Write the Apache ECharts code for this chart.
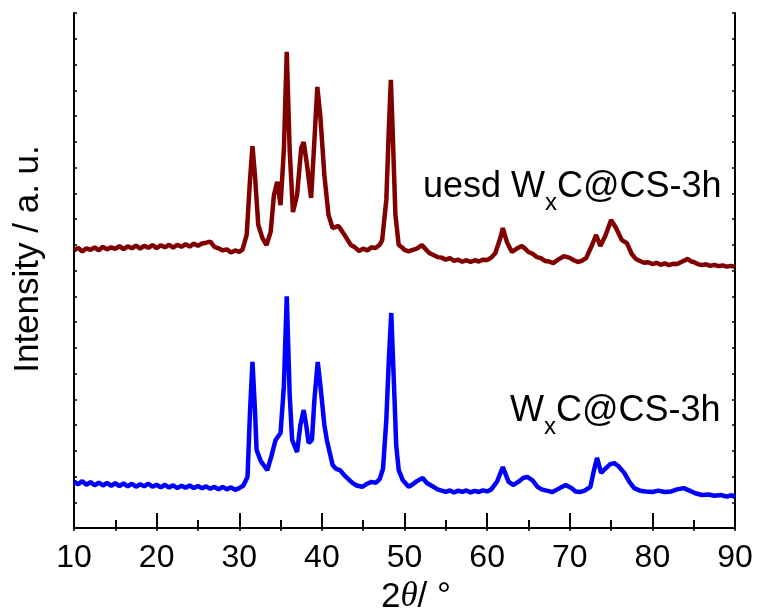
<!DOCTYPE html>
<html>
<head>
<meta charset="utf-8">
<script src="https://cdn.jsdelivr.net/npm/echarts@6/dist/echarts.min.js"></script>
<style>
html, body { margin: 0; padding: 0; background: #fff; }
#main { width: 761px; height: 616px; }
</style>
</head>
<body>
<div id="main"></div>
<script>
// 2theta (deg) / intensity (a.u.) pairs
const usedPattern = [
  [10,10.78],[10.5,10.88],[11,10.74],[11.5,10.86],[12,10.80],[12.5,10.90],[13,10.78],[13.5,10.92],[14,10.82],[14.5,10.90],
  [15,10.84],[15.5,10.95],[16,10.83],[16.5,10.94],[17,10.86],[17.5,10.97],[18,10.85],[18.5,10.96],[19,10.88],[19.5,10.99],
  [20,10.87],[20.5,10.98],[21,10.90],[21.5,11.00],[22,10.89],[22.5,11.00],[23,10.92],[23.5,11.02],[24,10.93],[24.5,11.04],
  [25,10.96],[25.5,11.05],[26,11.08],[26.5,11.12],[27,10.92],[27.5,10.86],[28,10.78],[28.5,10.82],[29,10.70],[29.5,10.78],
  [30,10.72],[30.4,10.82],[30.9,11.38],[31.3,13.51],[31.6,14.83],[31.9,13.7],[32.3,11.77],[32.8,11.26],[33.3,10.99],[33.8,11.5],
  [34.2,12.93],[34.6,13.44],[35.0,12.54],[35.4,14.68],[35.75,18.49],[36.1,14.68],[36.5,12.27],[37.0,12.93],[37.5,14.75],[37.8,14.99],
  [38.2,14.1],[38.7,12.82],[39.1,15.07],[39.45,17.13],[39.8,16.04],[40.3,13.71],[40.8,12.16],[41.3,11.65],[42.0,11.73],[42.5,11.5],
  [43,11.25],[43.5,10.99],[44,10.9],[44.5,10.76],[45,10.85],[45.5,10.78],[46,10.9],[46.5,10.87],[47,11.0],[47.3,11.18],
  [47.8,12.74],[48.1,15.46],[48.35,17.4],[48.6,15.07],[48.9,12.16],[49.3,10.99],[49.7,10.9],[50,10.8],[50.5,10.74],[51,10.8],
  [51.5,10.85],[52.1,10.99],[52.5,10.85],[53,10.68],[53.5,10.6],[54,10.52],[54.5,10.5],[55,10.42],[55.5,10.48],[56,10.37],
  [56.5,10.42],[57,10.34],[57.5,10.4],[58,10.33],[58.5,10.4],[59,10.35],[59.5,10.42],[60,10.41],[60.5,10.5],[61,10.68],
  [61.6,11.26],[61.9,11.65],[62.4,11.1],[63,10.72],[63.6,10.85],[64.2,10.95],[64.6,10.85],[65,10.72],[65.5,10.65],[66,10.52],
  [66.5,10.48],[67,10.37],[67.5,10.35],[68,10.29],[68.5,10.4],[69.3,10.56],[70,10.49],[70.5,10.4],[71,10.33],[71.5,10.38],
  [72,10.49],[72.7,10.99],[73.2,11.38],[73.7,10.95],[74.3,11.34],[75.0,11.96],[75.6,11.65],[76.3,11.18],[76.9,11.07],[77.5,10.64],
  [78,10.45],[78.5,10.37],[79,10.3],[79.5,10.32],[80,10.25],[80.5,10.3],[81,10.22],[81.5,10.28],[82,10.21],[82.5,10.26],
  [83,10.25],[83.5,10.33],[84.3,10.45],[84.7,10.35],[85,10.33],[85.5,10.25],[86,10.21],[86.5,10.24],[87,10.18],[87.5,10.22],
  [88,10.17],[88.5,10.2],[89,10.15],[89.5,10.18],[90,10.14]
];

const freshPattern = [
  [10,1.80],[10.5,1.70],[11,1.82],[11.5,1.68],[12,1.78],[12.5,1.66],[13,1.76],[13.5,1.65],[14,1.75],[14.5,1.64],
  [15,1.74],[15.5,1.63],[16,1.73],[16.5,1.62],[17,1.72],[17.5,1.6],[18,1.7],[18.5,1.62],[19,1.72],[19.5,1.6],
  [20,1.68],[20.5,1.58],[21,1.68],[21.5,1.57],[22,1.66],[22.5,1.55],[23,1.64],[23.5,1.56],[24,1.65],[24.5,1.55],
  [25,1.63],[25.5,1.54],[26,1.62],[26.5,1.52],[27,1.6],[27.5,1.5],[28,1.6],[28.5,1.5],[29,1.58],[29.5,1.48],
  [30,1.55],[30.5,1.65],[31,1.98],[31.3,4.5],[31.6,6.45],[31.9,4.6],[32.1,3.03],[32.6,2.6],[33.4,2.25],[33.9,2.8],
  [34.4,3.42],[35,3.69],[35.4,5.5],[35.75,9.0],[36.1,5.2],[36.4,3.42],[37,2.95],[37.4,4.0],[37.8,4.58],[38.1,4.0],
  [38.4,3.3],[38.8,3.42],[39.1,5.0],[39.5,6.45],[39.8,5.6],[40,4.97],[40.3,4.0],[40.6,3.42],[41.3,2.45],[41.7,2.3],
  [42.2,2.25],[42.7,2.05],[43.2,1.9],[43.7,1.75],[44.2,1.65],[44.9,1.6],[45.5,1.72],[46,1.79],[46.5,1.75],[47,1.9],
  [47.4,2.3],[47.8,4.2],[48.1,6.5],[48.4,8.35],[48.7,5.8],[49,3.2],[49.3,2.25],[49.8,1.85],[50.5,1.6],[51,1.7],
  [51.5,1.82],[52.2,1.94],[52.7,1.75],[53.5,1.6],[54,1.5],[54.5,1.45],[55,1.4],[55.5,1.46],[56,1.38],[56.5,1.45],
  [57,1.4],[57.5,1.46],[58,1.38],[58.5,1.44],[59,1.4],[59.5,1.46],[60,1.42],[60.5,1.5],[61.2,1.8],[61.9,2.37],
  [62.6,1.79],[63.2,1.67],[63.8,1.8],[64.4,1.95],[64.9,1.98],[65.5,1.85],[66.1,1.6],[66.6,1.5],[67.2,1.45],[67.9,1.4],
  [68.5,1.5],[69.5,1.67],[70.2,1.55],[70.7,1.42],[71.3,1.4],[71.8,1.45],[72.5,1.6],[72.9,2.2],[73.3,2.72],[73.8,2.14],
  [74.3,2.3],[74.9,2.48],[75.4,2.52],[75.9,2.4],[76.6,2.14],[77.2,1.8],[77.8,1.55],[78.5,1.45],[79.2,1.42],[80,1.4],
  [80.7,1.45],[81.5,1.4],[82.3,1.42],[83,1.5],[83.8,1.55],[84.5,1.45],[85.2,1.35],[86,1.28],[86.8,1.3],[87.5,1.25],
  [88.3,1.28],[89,1.22],[89.6,1.28],[90,1.2]
];

const angleRange = [10, 90];
const intensityRange = [0, 20];
const sampleNames = ['uesd W{sub|x}C@CS-3h', 'W{sub|x}C@CS-3h'];

const font = '"Liberation Sans", Arial, sans-serif';
const chart = echarts.init(document.getElementById('main'));

const frame = { show: true, lineStyle: { color: '#000', width: 2 } };
const subStyle = { fontSize: 24, fontFamily: font, fill: '#000', padding: [32, 0, 0, 0] };

const option = {
  animation: false,
  backgroundColor: '#fff',
  grid: { left: 74, right: 26, top: 13, bottom: 88, containLabel: false },
  xAxis: [
    {
      type: 'value', position: 'bottom',
      min: angleRange[0], max: angleRange[1], interval: 10,
      axisLine: frame,
      axisTick: { inside: true, length: 15, lineStyle: { color: '#000', width: 2 } },
      minorTick: { show: true, splitNumber: 2, length: 8, lineStyle: { color: '#000', width: 2 } },
      axisLabel: { color: '#000', fontSize: 32, fontFamily: font, margin: 14 },
      splitLine: { show: false }
    },
    {
      type: 'value', position: 'top',
      min: angleRange[0], max: angleRange[1], interval: 5,
      axisLine: frame,
      axisTick: { inside: true, length: 3, lineStyle: { color: '#000', width: 1.5 } },
      axisLabel: { show: false },
      splitLine: { show: false }
    }
  ],
  yAxis: [
    {
      type: 'value', position: 'left',
      min: intensityRange[0], max: intensityRange[1], interval: 1,
      axisLine: frame,
      axisTick: { inside: true, length: 3, lineStyle: { color: '#000', width: 1.5 } },
      axisLabel: { show: false },
      splitLine: { show: false }
    },
    {
      type: 'value', position: 'right',
      min: intensityRange[0], max: intensityRange[1], interval: 1,
      axisLine: frame,
      axisTick: { inside: true, length: 3, lineStyle: { color: '#000', width: 1.5 } },
      axisLabel: { show: false },
      splitLine: { show: false }
    }
  ],
  series: [
    {
      type: 'line', name: 'used', data: usedPattern,
      showSymbol: false, symbol: 'none',
      lineStyle: { color: '#800000', width: 4.5 }
    },
    {
      type: 'line', name: 'fresh', data: freshPattern,
      showSymbol: false, symbol: 'none',
      lineStyle: { color: '#0000ff', width: 4.5 }
    }
  ],
  graphic: [
    {
      type: 'text', x: 28, y: 259, rotation: Math.PI / 2,
      style: { text: 'Intensity / a. u.', fontSize: 35, fontFamily: font, fill: '#000', align: 'center', verticalAlign: 'middle' }
    },
    {
      type: 'text', x: 416, y: 597,
      style: {
        text: '2{it|θ}/ °', fontSize: 35, fontFamily: font, fill: '#000', align: 'center', verticalAlign: 'middle',
        rich: { it: { fontSize: 35, fontStyle: 'italic', fontFamily: '"Liberation Serif", serif', fill: '#000' } }
      }
    },
    {
      type: 'text', x: 423, y: 187,
      style: {
        text: sampleNames[0], fontSize: 36, fontFamily: font, fill: '#000', align: 'left', verticalAlign: 'middle',
        rich: { sub: subStyle }
      }
    },
    {
      type: 'text', x: 510, y: 411,
      style: {
        text: sampleNames[1], fontSize: 36, fontFamily: font, fill: '#000', align: 'left', verticalAlign: 'middle',
        rich: { sub: subStyle }
      }
    }
  ]
};

chart.setOption(option);
</script>
</body>
</html>
